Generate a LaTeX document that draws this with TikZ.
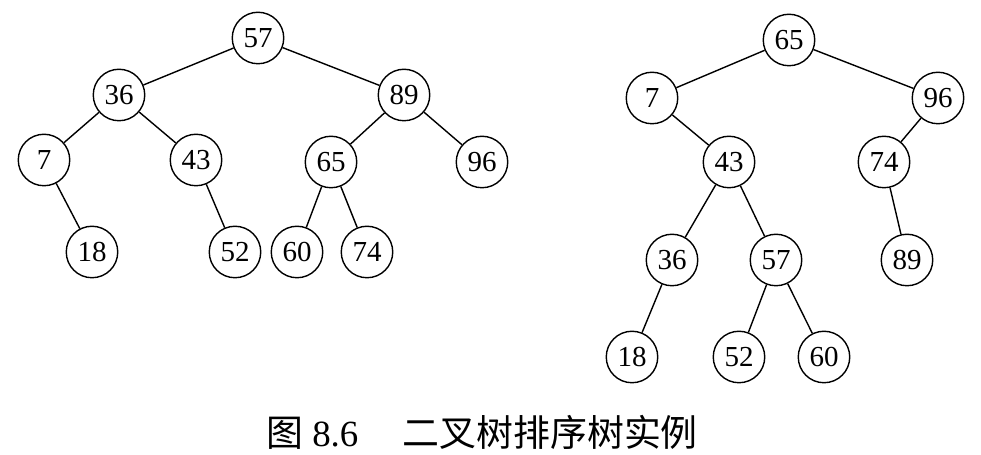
\documentclass[tikz,border=0pt]{standalone}
\usepackage{fontspec}
\setmainfont{Liberation Serif}
\newfontfamily\cjk{Noto Sans CJK SC}

\begin{document}
\begin{tikzpicture}[
		x=0.02cm, y=-0.02cm,
		key/.style={draw, circle, line width=0.8pt, minimum size=1.03cm, inner sep=0pt, font=\fontsize{16.5}{16.5}\selectfont},
		edge/.style={line width=0.8pt},
		caption/.style={font=\fontsize{21}{21}\selectfont}
		]
		\useasboundingbox (0,0) rectangle (981,455);
		
		% Left tree
		\node[key] (a57) at (258,38) {57};
		\node[key] (a36) at (119,95) {36};
		\node[key] (a89) at (404,95) {89};
		\node[key] (a7)  at (44,160) {7};
		\node[key] (a43) at (196,160) {43};
		\node[key] (a65) at (331,162) {65};
		\node[key] (a96) at (482,162) {96};
		\node[key] (a18) at (92,252) {18};
		\node[key] (a52) at (235,252) {52};
		\node[key] (a60) at (297,252) {60};
		\node[key] (a74) at (367,252) {74};
		
		\draw[edge] (a57) -- (a36);
		\draw[edge] (a57) -- (a89);
		\draw[edge] (a36) -- (a7);
		\draw[edge] (a36) -- (a43);
		\draw[edge] (a89) -- (a65);
		\draw[edge] (a89) -- (a96);
		\draw[edge] (a7) -- (a18);
		\draw[edge] (a43) -- (a52);
		\draw[edge] (a65) -- (a60);
		\draw[edge] (a65) -- (a74);
		
		% Right tree
		\node[key] (b65) at (789,40) {65};
		\node[key] (b7)  at (652,98) {7};
		\node[key] (b96) at (938,98) {96};
		\node[key] (b43) at (729,162) {43};
		\node[key] (b74) at (884,162) {74};
		\node[key] (b36) at (672,260) {36};
		\node[key] (b57) at (776,260) {57};
		\node[key] (b89) at (907,260) {89};
		\node[key] (b18) at (632,357) {18};
		\node[key] (b52) at (739,357) {52};
		\node[key] (b60) at (824,357) {60};
		
		\draw[edge] (b65) -- (b7);
		\draw[edge] (b65) -- (b96);
		\draw[edge] (b7) -- (b43);
		\draw[edge] (b96) -- (b74);
		\draw[edge] (b43) -- (b36);
		\draw[edge] (b43) -- (b57);
		\draw[edge] (b74) -- (b89);
		\draw[edge] (b36) -- (b18);
		\draw[edge] (b57) -- (b52);
		\draw[edge] (b57) -- (b60);
		
		% Caption
		\node[caption] (title) at (482,432) {{\cjk 图} 8.6\hspace{1.2em}{\cjk 二叉树排序树实例}};
		
	\end{tikzpicture}
\end{document}
